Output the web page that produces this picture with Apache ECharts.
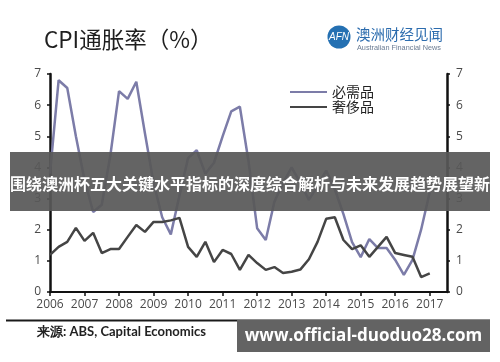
<!DOCTYPE html>
<html>
<head>
<meta charset="utf-8">
<script src="https://cdn.jsdelivr.net/npm/echarts@6/dist/echarts.min.js"></script>
<style>
html,body{margin:0;padding:0;background:#fff;}
#chart{width:500px;height:362px;}
</style>
</head>
<body>
<div id="chart"></div>
<script>
// Quarterly data, 2006Q1 .. 2017Q1 (axis runs to 2017Q3)
const years = [2006, 2007, 2008, 2009, 2010, 2011, 2012, 2013, 2014, 2015, 2016, 2017];
const quarters = ['Q1', 'Q2', 'Q3', 'Q4'];
const seriesNames = ['必需品', '奢侈品'];
const necessities = [3.8, 6.8, 6.55, 5.0, 3.6, 2.57, 2.8, 4.4, 6.45, 6.2, 6.75, 5.1, 3.5, 2.4, 1.85, 3.1,
  4.3, 4.55, 3.8, 4.15, 5.0, 5.8, 5.95, 4.2, 2.05, 1.67, 2.9, 3.5, 4.0, 3.5, 2.96, 3.4,
  3.9, 3.3, 2.5, 1.6, 1.12, 1.7, 1.41, 1.41, 1.03, 0.55, 1.03, 2.0, 3.2];
const luxury = [1.19, 1.45, 1.61, 2.06, 1.64, 1.9, 1.25, 1.38, 1.38, 1.77, 2.15, 1.93, 2.25, 2.25, 2.3, 2.38,
  1.45, 1.13, 1.61, 0.96, 1.35, 1.22, 0.71, 1.19, 0.93, 0.71, 0.8, 0.61, 0.65, 0.72, 1.05, 1.61,
  2.35, 2.4, 1.67, 1.38, 1.5, 1.13, 1.45, 1.77, 1.25, 1.19, 1.13, 0.48, 0.6];
const yTicks = [0, 1, 2, 3, 4, 5, 6, 7];
const titleText = 'CPI通胀率（%）';
const sourceText = '来源: ABS, Capital Economics';
const bannerText = '围绕澳洲杯五大关键水平指标的深度综合解析与未来发展趋势展望新';
const watermarkText = 'www.official-duoduo28.com';

const categories = [];
years.forEach(y => quarters.forEach(q => categories.push(y + q)));
const axisCats = categories.slice(0, 47);

const chart = echarts.init(document.getElementById('chart'));
const labelFont = {color: '#4a4a4a', fontSize: 12, fontFamily: 'Open Sans'};
const yAxisBase = {
  type: 'value', min: yTicks[0], max: yTicks[yTicks.length - 1], interval: 1,
  splitLine: {show: false},
  axisLine: {show: true, lineStyle: {color: '#111', width: 2.5}},
  axisTick: {show: true, length: 3, lineStyle: {color: '#111', width: 1.5}},
  axisLabel: Object.assign({margin: 9}, labelFont)
};
chart.setOption({
  animation: false,
  grid: {left: 50, right: 53, top: 74, bottom: 70, containLabel: false},
  legend: {
    orient: 'vertical', left: 285, top: 80, itemGap: 1,
    icon: 'rect', itemWidth: 37, itemHeight: 2,
    textStyle: {fontSize: 14, color: '#222', fontFamily: 'Noto Sans CJK SC', lineHeight: 14},
    data: seriesNames
  },
  xAxis: {
    type: 'category', data: axisCats, boundaryGap: false,
    axisLine: {lineStyle: {color: '#111', width: 2}},
    axisTick: {interval: 3, length: 4, lineStyle: {color: '#111', width: 1.5}},
    axisLabel: Object.assign({interval: 3, margin: 7, formatter: v => v.slice(0, 4)}, labelFont)
  },
  yAxis: [
    Object.assign({position: 'left'}, yAxisBase),
    Object.assign({position: 'right'}, yAxisBase)
  ],
  series: [
    {name: seriesNames[0], type: 'line', data: necessities, symbol: 'none',
      lineStyle: {color: '#7c7ca8', width: 2.5}, itemStyle: {color: '#7c7ca8'}},
    {name: seriesNames[1], type: 'line', data: luxury, symbol: 'none',
      lineStyle: {color: '#454545', width: 2.5}, itemStyle: {color: '#454545'}}
  ],
  graphic: [
    {type: 'text', left: 44, top: 28, style: {text: titleText, fontSize: 22.5, fontFamily: 'Noto Sans CJK SC', fill: '#1e1e1e'}},
    {type: 'circle', shape: {cx: 339, cy: 37, r: 11.5}, style: {fill: '#2470b2'}},
    {type: 'text', x: 339, y: 37, style: {text: 'AFN', fontSize: 10, fontStyle: 'italic', fontFamily: 'Liberation Sans', fill: '#fff', align: 'center', verticalAlign: 'middle'}},
    {type: 'text', left: 356, top: 27, style: {text: '澳洲财经见闻', fontSize: 14.5, fontFamily: 'Noto Sans CJK SC', fill: '#2c6cae'}},
    {type: 'text', left: 357, top: 44, style: {text: 'Australian Financial News', fontSize: 7.3, fontFamily: 'Liberation Sans', fill: '#6b7c93'}},
    {type: 'rect', shape: {x: 6, y: 319.5, width: 484, height: 2}, style: {fill: '#1a1a1a'}},
    {type: 'text', left: 37, top: 325, style: {text: sourceText, fontSize: 13, fontWeight: 'bold', fontFamily: 'Lato', fill: '#222'}},
    {type: 'rect', z: 100, shape: {x: 237, y: 320, width: 253, height: 32}, style: {fill: '#636363'}},
    {type: 'text', z: 101, x: 363.5, y: 336, style: {text: watermarkText, fontSize: 17, fontWeight: 'bold', fontFamily: 'Open Sans', fill: '#fff', align: 'center', verticalAlign: 'middle'}},
    {type: 'rect', z: 100, shape: {x: 10, y: 152, width: 480, height: 59}, style: {fill: 'rgba(88,88,88,0.93)'}},
    {type: 'text', z: 101, x: 250, y: 184, style: {text: bannerText, fontSize: 16, fontWeight: 'bold', fontFamily: 'Noto Sans CJK SC', fill: '#fff', align: 'center', verticalAlign: 'middle'}}
  ]
});
</script>
</body>
</html>
